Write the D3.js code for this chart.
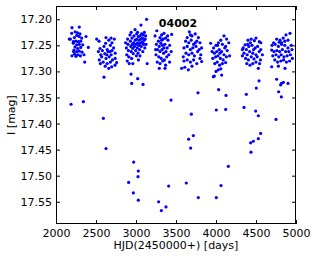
<!DOCTYPE html>
<html><head><meta charset="utf-8">
<script src="https://cdn.jsdelivr.net/npm/d3@7"></script>
<style>body{margin:0;background:#fff}svg{display:block}text{font-family:"DejaVu Sans",sans-serif}</style>
</head><body><svg id="c" width="316" height="259"></svg>
<script>
const title = "04002";
const xTicks = [2000,2500,3000,3500,4000,4500,5000];
const yTicks = [17.20,17.25,17.30,17.35,17.40,17.45,17.50,17.55];
const season1 = [[2200,17.216],[2291,17.215],[2166,17.238],[2196,17.227],[2229,17.235],[2259,17.231],[2288,17.233],[2321,17.236],[2375,17.233],[2246,17.242],[2279,17.243],[2216,17.246],[2259,17.249],[2291,17.248],[2238,17.253],[2271,17.256],[2309,17.254],[2225,17.259],[2259,17.262],[2291,17.261],[2325,17.263],[2234,17.267],[2275,17.268],[2200,17.270],[2250,17.271],[2350,17.268],[2404,17.254],[2359,17.282],[2216,17.243],[2309,17.242],[2334,17.249],[2180,17.238],[2270,17.226],[2240,17.224],[2300,17.228],[2220,17.262],[2305,17.270],[2188,17.363],[2342,17.358]];
const season2 = [[2508,17.238],[2538,17.242],[2625,17.235],[2688,17.236],[2729,17.238],[2660,17.240],[2700,17.245],[2550,17.256],[2600,17.252],[2640,17.258],[2680,17.250],[2720,17.255],[2571,17.272],[2610,17.266],[2650,17.262],[2690,17.268],[2740,17.265],[2530,17.262],[2560,17.268],[2625,17.275],[2665,17.272],[2705,17.278],[2541,17.278],[2590,17.282],[2640,17.285],[2680,17.282],[2696,17.291],[2738,17.288],[2758,17.283],[2615,17.290],[2660,17.294],[2580,17.260],[2700,17.260],[2620,17.246],[2740,17.275],[2555,17.285],[2635,17.268],[2675,17.262],[2600,17.311],[2592,17.390],[2625,17.448]];
const season3 = [[2870,17.245],[2880,17.255],[2885,17.268],[2890,17.280],[2895,17.238],[2900,17.248],[2905,17.260],[2910,17.272],[2915,17.285],[2925,17.230],[2930,17.242],[2935,17.252],[2940,17.262],[2945,17.275],[2950,17.236],[2955,17.248],[2960,17.256],[2965,17.266],[2970,17.245],[2975,17.232],[2980,17.252],[2988,17.220],[2990,17.240],[2995,17.260],[3000,17.248],[3005,17.270],[3008,17.228],[3010,17.238],[3015,17.255],[3020,17.245],[3025,17.265],[3030,17.233],[3035,17.250],[3040,17.240],[3045,17.258],[3050,17.232],[3055,17.246],[3060,17.238],[3062,17.211],[3065,17.252],[3070,17.228],[3075,17.244],[3080,17.236],[3085,17.262],[3090,17.230],[3095,17.248],[3100,17.240],[3105,17.225],[3110,17.255],[3115,17.238],[3120,17.232],[3125,17.248],[3133,17.200],[3140,17.285],[3030,17.278],[2960,17.285],[3085,17.245],[3020,17.225],[3050,17.270],[2940,17.225],[2938,17.305],[2946,17.323],[3021,17.314],[3088,17.325],[2971,17.474],[3029,17.491],[3025,17.502],[2908,17.513],[2967,17.533],[3029,17.547]];
const season4 = [[3238,17.232],[3350,17.227],[3446,17.229],[3260,17.222],[3300,17.235],[3320,17.240],[3280,17.242],[3340,17.238],[3370,17.236],[3400,17.240],[3255,17.248],[3290,17.252],[3310,17.246],[3330,17.250],[3360,17.248],[3390,17.255],[3420,17.250],[3270,17.258],[3300,17.262],[3325,17.258],[3345,17.265],[3375,17.262],[3410,17.268],[3250,17.268],[3285,17.272],[3315,17.275],[3355,17.278],[3385,17.272],[3440,17.262],[3265,17.282],[3300,17.285],[3335,17.280],[3370,17.288],[3291,17.294],[3363,17.294],[3420,17.282],[3245,17.258],[3320,17.230],[3395,17.232],[3350,17.255],[3438,17.355],[3408,17.520],[3283,17.550],[3375,17.560],[3317,17.567]];
const season5 = [[3667,17.224],[3640,17.235],[3700,17.232],[3740,17.228],[3780,17.235],[3620,17.242],[3660,17.245],[3690,17.240],[3720,17.248],[3760,17.242],[3800,17.245],[3600,17.255],[3640,17.252],[3680,17.258],[3710,17.255],[3750,17.252],[3790,17.258],[3820,17.255],[3591,17.272],[3625,17.265],[3660,17.268],[3700,17.265],[3730,17.270],[3770,17.262],[3810,17.268],[3821,17.281],[3600,17.280],[3640,17.278],[3680,17.282],[3720,17.278],[3760,17.285],[3571,17.294],[3654,17.297],[3610,17.292],[3700,17.290],[3740,17.245],[3680,17.230],[3800,17.275],[3775,17.341],[3692,17.382],[3717,17.423],[3658,17.430],[3683,17.447],[3629,17.514],[3779,17.542]];
const season6 = [[3933,17.246],[4133,17.238],[4100,17.232],[4060,17.240],[3970,17.255],[4000,17.250],[4030,17.245],[4080,17.248],[4120,17.252],[4160,17.245],[3980,17.265],[4010,17.262],[4040,17.258],[4070,17.262],[4100,17.268],[4140,17.260],[3960,17.275],[3995,17.272],[4025,17.270],[4055,17.275],[4090,17.278],[4130,17.272],[4170,17.270],[3985,17.285],[4015,17.282],[4045,17.288],[4080,17.285],[4120,17.283],[4029,17.297],[4060,17.295],[3967,17.310],[4000,17.300],[4071,17.307],[3979,17.309],[4050,17.265],[4110,17.255],[4020,17.250],[3950,17.262],[4033,17.335],[4125,17.346],[4004,17.374],[4121,17.373],[4154,17.482],[4063,17.519],[4004,17.542]];
const season7 = [[4363,17.249],[4479,17.241],[4541,17.243],[4425,17.288],[4529,17.294],[4400,17.240],[4440,17.238],[4500,17.236],[4340,17.255],[4380,17.258],[4410,17.252],[4450,17.250],[4490,17.255],[4520,17.252],[4560,17.258],[4350,17.265],[4390,17.268],[4420,17.262],[4460,17.265],[4500,17.268],[4540,17.262],[4580,17.268],[4370,17.275],[4405,17.278],[4440,17.272],[4475,17.276],[4515,17.272],[4555,17.278],[4330,17.270],[4385,17.285],[4460,17.285],[4500,17.282],[4560,17.245],[4430,17.245],[4470,17.258],[4395,17.248],[4330,17.258],[4545,17.285],[4379,17.344],[4504,17.332],[4538,17.318],[4350,17.369],[4496,17.376],[4529,17.385],[4558,17.419],[4529,17.429],[4467,17.434],[4433,17.437],[4437,17.455]];
const season8 = [[4925,17.227],[4875,17.230],[4758,17.238],[4800,17.240],[4840,17.236],[4900,17.240],[4700,17.250],[4740,17.248],[4780,17.252],[4820,17.248],[4860,17.250],[4900,17.255],[4940,17.250],[4696,17.259],[4725,17.262],[4760,17.260],[4795,17.262],[4830,17.258],[4870,17.262],[4910,17.262],[4950,17.258],[4710,17.270],[4750,17.268],[4785,17.272],[4815,17.268],[4850,17.272],[4890,17.270],[4930,17.268],[4735,17.278],[4770,17.282],[4810,17.280],[4845,17.278],[4880,17.282],[4920,17.280],[4696,17.291],[4863,17.294],[4780,17.290],[4955,17.275],[4820,17.245],[4860,17.242],[4790,17.244],[4720,17.245],[4808,17.326],[4817,17.323],[4842,17.321],[4900,17.323],[4758,17.315],[4783,17.339],[4817,17.349],[4750,17.392]];

const points = [].concat(season1,season2,season3,season4,season5,season6,season7,season8);
const L=56,R=296,T=6,B=224;
const svg = d3.select("#c");
const x = d3.scaleLinear().domain([2000,5000]).range([L,R]);
const y = d3.scaleLinear().domain([17.1745,17.5927]).range([T,B]);

svg.append("g").selectAll("circle").data(points).join("circle")
  .attr("cx",d=>x(d[0])).attr("cy",d=>y(d[1])).attr("r",1.6).attr("fill","#0000ff");

const tl=4;
const ax = svg.append("g").attr("transform",`translate(0,${B})`)
  .call(d3.axisBottom(x).tickValues(xTicks).tickSizeInner(-tl).tickSizeOuter(0).tickPadding(5).tickFormat(d3.format("d")));
const axT = svg.append("g").attr("transform",`translate(0,${T})`)
  .call(d3.axisTop(x).tickValues(xTicks).tickSizeInner(-tl).tickSizeOuter(0).tickFormat(""));
const ay = svg.append("g").attr("transform",`translate(${L},0)`)
  .call(d3.axisLeft(y).tickValues(yTicks).tickSizeInner(-tl).tickSizeOuter(0).tickPadding(4).tickFormat(d3.format(".2f")));
const ayR = svg.append("g").attr("transform",`translate(${R},0)`)
  .call(d3.axisRight(y).tickValues(yTicks).tickSizeInner(-tl).tickSizeOuter(0).tickFormat(""));
[ax,axT,ay,ayR].forEach(g=>{g.select(".domain").remove();g.selectAll("line").attr("stroke","#000");g.selectAll("text").attr("font-size",11).attr("fill","#000").attr("font-family","DejaVu Sans");});

svg.append("rect").attr("x",L+0.5).attr("y",T+0.5).attr("width",R-L-1).attr("height",B-T-1)
  .attr("fill","none").attr("stroke","#000").attr("stroke-width",1);

svg.append("text").attr("x",178).attr("y",26.5).attr("text-anchor","middle")
  .attr("font-size",11).attr("font-weight","bold").text(title);
svg.append("text").attr("x",(L+R)/2).attr("y",249).attr("text-anchor","middle")
  .attr("font-size",11).text("HJD(2450000+) [days]");
svg.append("text").attr("transform",`translate(15,${(T+B)/2}) rotate(-90)`).attr("text-anchor","middle")
  .attr("font-size",11).text("I [mag]");
</script></body></html>
